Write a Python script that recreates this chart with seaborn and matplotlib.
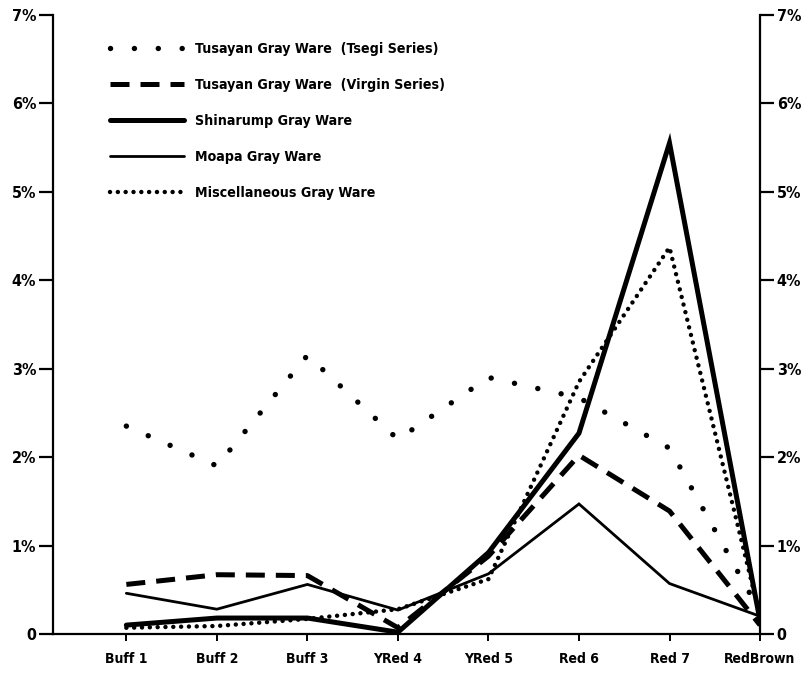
import matplotlib
matplotlib.use("Agg")
import matplotlib.pyplot as plt
import seaborn as sns

# Share of each gray ware type by ware group (percent)
categories = ["Buff 1", "Buff 2", "Buff 3", "YRed 4", "YRed 5", "Red 6", "Red 7", "RedBrown"]
tsegi = [2.35, 1.90, 3.15, 2.20, 2.90, 2.67, 2.10, 0.25]
virgin = [0.56, 0.67, 0.66, 0.07, 0.88, 2.02, 1.39, 0.10]
shinarump = [0.10, 0.18, 0.18, 0.02, 0.92, 2.27, 5.55, 0.15]
moapa = [0.46, 0.28, 0.56, 0.27, 0.68, 1.47, 0.57, 0.20]
misc = [0.07, 0.09, 0.17, 0.28, 0.62, 2.85, 4.37, 0.20]

series_labels = [
    "Tusayan Gray Ware  (Tsegi Series)",
    "Tusayan Gray Ware  (Virgin Series)",
    "Shinarump Gray Ware",
    "Moapa Gray Ware",
    "Miscellaneous Gray Ware",
]
y_ticks = [0, 1, 2, 3, 4, 5, 6, 7]
y_tick_labels = ["0", "1%", "2%", "3%", "4%", "5%", "6%", "7%"]

sns.set_theme(style="white", rc={"text.color": "black", "axes.labelcolor": "black",
                                 "xtick.color": "black", "ytick.color": "black"})
plt.rcParams["font.family"] = ["DejaVu Sans"]
plt.rcParams["font.stretch"] = "condensed"
plt.rcParams["font.weight"] = "bold"

fig = plt.figure(figsize=(8.07, 6.73), dpi=100)
ax = fig.add_axes([0.0657, 0.058, 0.8761, 0.920])

styles = [
    dict(linewidth=3.9, linestyle=(0, (0.01, 4.4)), dash_capstyle="round"),
    dict(linewidth=3.6, linestyle=(0, (3.8, 2.2)), dash_capstyle="butt"),
    dict(linewidth=3.6, linestyle="-"),
    dict(linewidth=2.0, linestyle="-"),
    dict(linewidth=3.2, linestyle=(0, (0.01, 1.75)), dash_capstyle="round"),
]

for vals, lab, st in zip([tsegi, virgin, shinarump, moapa, misc], series_labels, styles):
    sns.lineplot(x=categories, y=vals, ax=ax, color="black", label=lab,
                 sort=False, solid_joinstyle="miter", **st)

ax.set_xlim(-0.81, 7.0)
ax.set_ylim(0, 7)

ax.spines["top"].set_visible(False)
for s in ["left", "right", "bottom"]:
    ax.spines[s].set_visible(True)
    ax.spines[s].set_color("black")
    ax.spines[s].set_linewidth(1.6)

ax.set_yticks(y_ticks)
ax.set_yticklabels(y_tick_labels)
ax.tick_params(axis="y", which="both", left=True, right=True, labelleft=True, labelright=True,
               direction="out", length=10, width=1.6, color="black", labelcolor="black",
               labelsize=11.5, pad=2)
ax.tick_params(axis="x", bottom=True, direction="out", length=5, width=1.4, color="black",
               labelcolor="black", labelsize=10, pad=8)
for t in ax.get_xticklabels() + ax.yaxis.get_ticklabels():
    t.set_fontweight("bold")
    t.set_fontstretch("condensed")

ax.set_xlabel("")
ax.set_ylabel("")
ax.grid(False)

leg = ax.legend(loc="upper left", bbox_to_anchor=(0.072, 0.965), frameon=False,
                fontsize=10.2, handlelength=5.25, handletextpad=0.75, labelspacing=1.55,
                borderaxespad=0)
for t in leg.get_texts():
    t.set_fontweight("bold")
    t.set_fontstretch("condensed")
    t.set_color("black")

fig.savefig("out.png", dpi=100, facecolor="white")
